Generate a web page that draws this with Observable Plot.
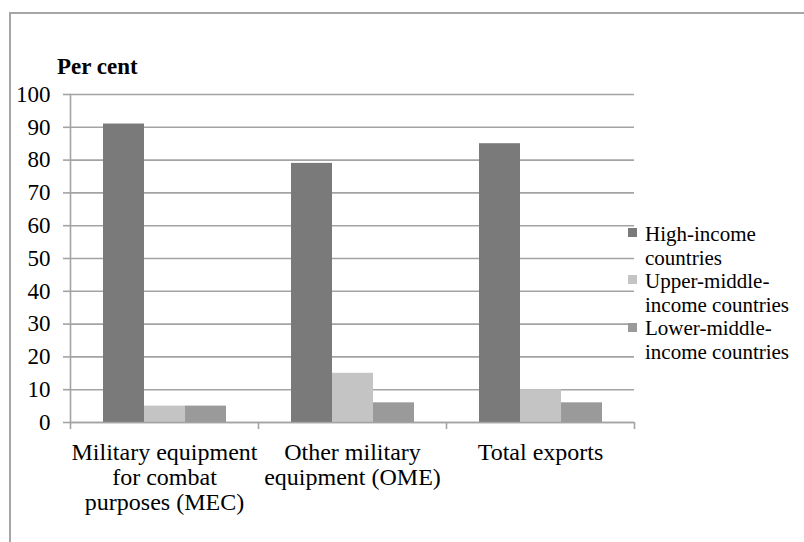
<!DOCTYPE html>
<html>
<head>
<meta charset="utf-8">
<script src="https://cdn.jsdelivr.net/npm/d3@7"></script>
<script src="https://cdn.jsdelivr.net/npm/@observablehq/plot@0.6"></script>
<style>
  html, body { margin: 0; padding: 0; background: #ffffff; }
  #wrap { position: relative; width: 804px; height: 542px; overflow: hidden;
          font-family: "Liberation Serif", "Times New Roman", Times, serif; color: #000; }
  #border { position: absolute; left: 9px; top: 12px; width: 820px; height: 560px;
            border-top: 2px solid #a6a6a6; border-left: 2px solid #a6a6a6; box-sizing: border-box; }
  #chart { position: absolute; left: 0; top: 0; }
  #title { position: absolute; left: 57px; top: 55px; font-size: 23px; line-height: 23px;
           font-weight: bold; white-space: nowrap; }
  #legend { position: absolute; left: 628px; top: 223px; font-size: 21px; line-height: 23.6px; }
  .item { display: flex; align-items: flex-start; }
  .sw { width: 9px; height: 9px; margin-top: 5.3px; margin-right: 8px; flex: none; }
</style>
</head>
<body>
<div id="wrap">
  <div id="border"></div>
  <div id="chart"></div>
  <div id="title"></div>
  <div id="legend"></div>
</div>
<script>
// ---- data ----
const categories = [
  "Military equipment for combat purposes (MEC)",
  "Other military equipment (OME)",
  "Total exports"
];
const categoryLabels = [
  "Military equipment\nfor combat\npurposes (MEC)",
  "Other military\nequipment (OME)",
  "Total exports"
];
const series = ["High-income countries", "Upper-middle-income countries", "Lower-middle-income countries"];
const legendLabels = ["High-income<br>countries", "Upper-middle-<br>income countries", "Lower-middle-<br>income countries"];
const highIncome = [91, 79, 85];
const upperMiddleIncome = [5, 15, 10];
const lowerMiddleIncome = [5, 6, 6];
const yTicks = [0, 10, 20, 30, 40, 50, 60, 70, 80, 90, 100];
const yTitle = "Per cent";
const colors = ["#7a7a7a", "#c4c4c4", "#9a9a9a"];

// ---- build table ----
const seriesValues = [highIncome, upperMiddleIncome, lowerMiddleIncome];
const rows = [];
categories.forEach((c, i) => {
  series.forEach((s, j) => rows.push({category: c, series: s, value: seriesValues[j][i]}));
});
const labelOf = new Map(categories.map((c, i) => [c, categoryLabels[i]]));

const width = 804, height = 542;
const marginLeft = 70, marginRight = 170, marginTop = 94, marginBottom = 120;
const band = (width - marginLeft - marginRight) / categories.length;
const lineColor = "#a3a3a3";
const lineW = 1.6;

const chart = Plot.plot({
  width, height, marginLeft, marginRight, marginTop, marginBottom,
  style: {fontFamily: '"Liberation Serif", "Times New Roman", Times, serif', fontSize: "23px", color: "#000", background: "transparent"},
  fx: {domain: categories, paddingInner: 0, paddingOuter: 0, axis: null, label: null},
  x: {domain: series, paddingInner: 0, paddingOuter: 0.755, axis: null, label: null},
  y: {domain: [0, 100], axis: null, label: null},
  color: {domain: series, range: colors},
  marks: [
    Plot.gridY(yTicks, {stroke: lineColor, strokeOpacity: 1, strokeWidth: lineW}),
    Plot.barY(rows, {fx: "category", x: "series", y: "value", fill: "series"}),
    Plot.ruleY([0], {stroke: lineColor, strokeWidth: lineW}),
    Plot.frame({anchor: "left", facetAnchor: "left", stroke: lineColor, strokeWidth: lineW}),
    Plot.axisY({ticks: yTicks, tickSize: 7, tickPadding: 13, stroke: lineColor, strokeWidth: lineW,
                fill: "#000", fontSize: 23, label: null}),
    Plot.axisFx({anchor: "bottom", tickSize: 0, tickPadding: 19, fontSize: 24, fill: "#000",
                 lineHeight: 1.06, tickFormat: d => labelOf.get(d), label: null}),
    Plot.axisFx({anchor: "bottom", tickSize: 7, dx: -band / 2, stroke: lineColor, strokeWidth: lineW,
                 tickFormat: () => "", label: null}),
    Plot.axisFx({anchor: "bottom", ticks: [categories[categories.length - 1]], tickSize: 7, dx: band / 2,
                 stroke: lineColor, strokeWidth: lineW, tickFormat: () => "", label: null})
  ]
});
document.getElementById("chart").appendChild(chart);
document.getElementById("title").textContent = yTitle;

const legend = document.getElementById("legend");
series.forEach((s, i) => {
  const item = document.createElement("div");
  item.className = "item";
  const sw = document.createElement("div");
  sw.className = "sw";
  sw.style.background = chart.scale("color").apply(s);
  const t = document.createElement("div");
  t.innerHTML = legendLabels[i];
  item.appendChild(sw);
  item.appendChild(t);
  legend.appendChild(item);
});
</script>
</body>
</html>
